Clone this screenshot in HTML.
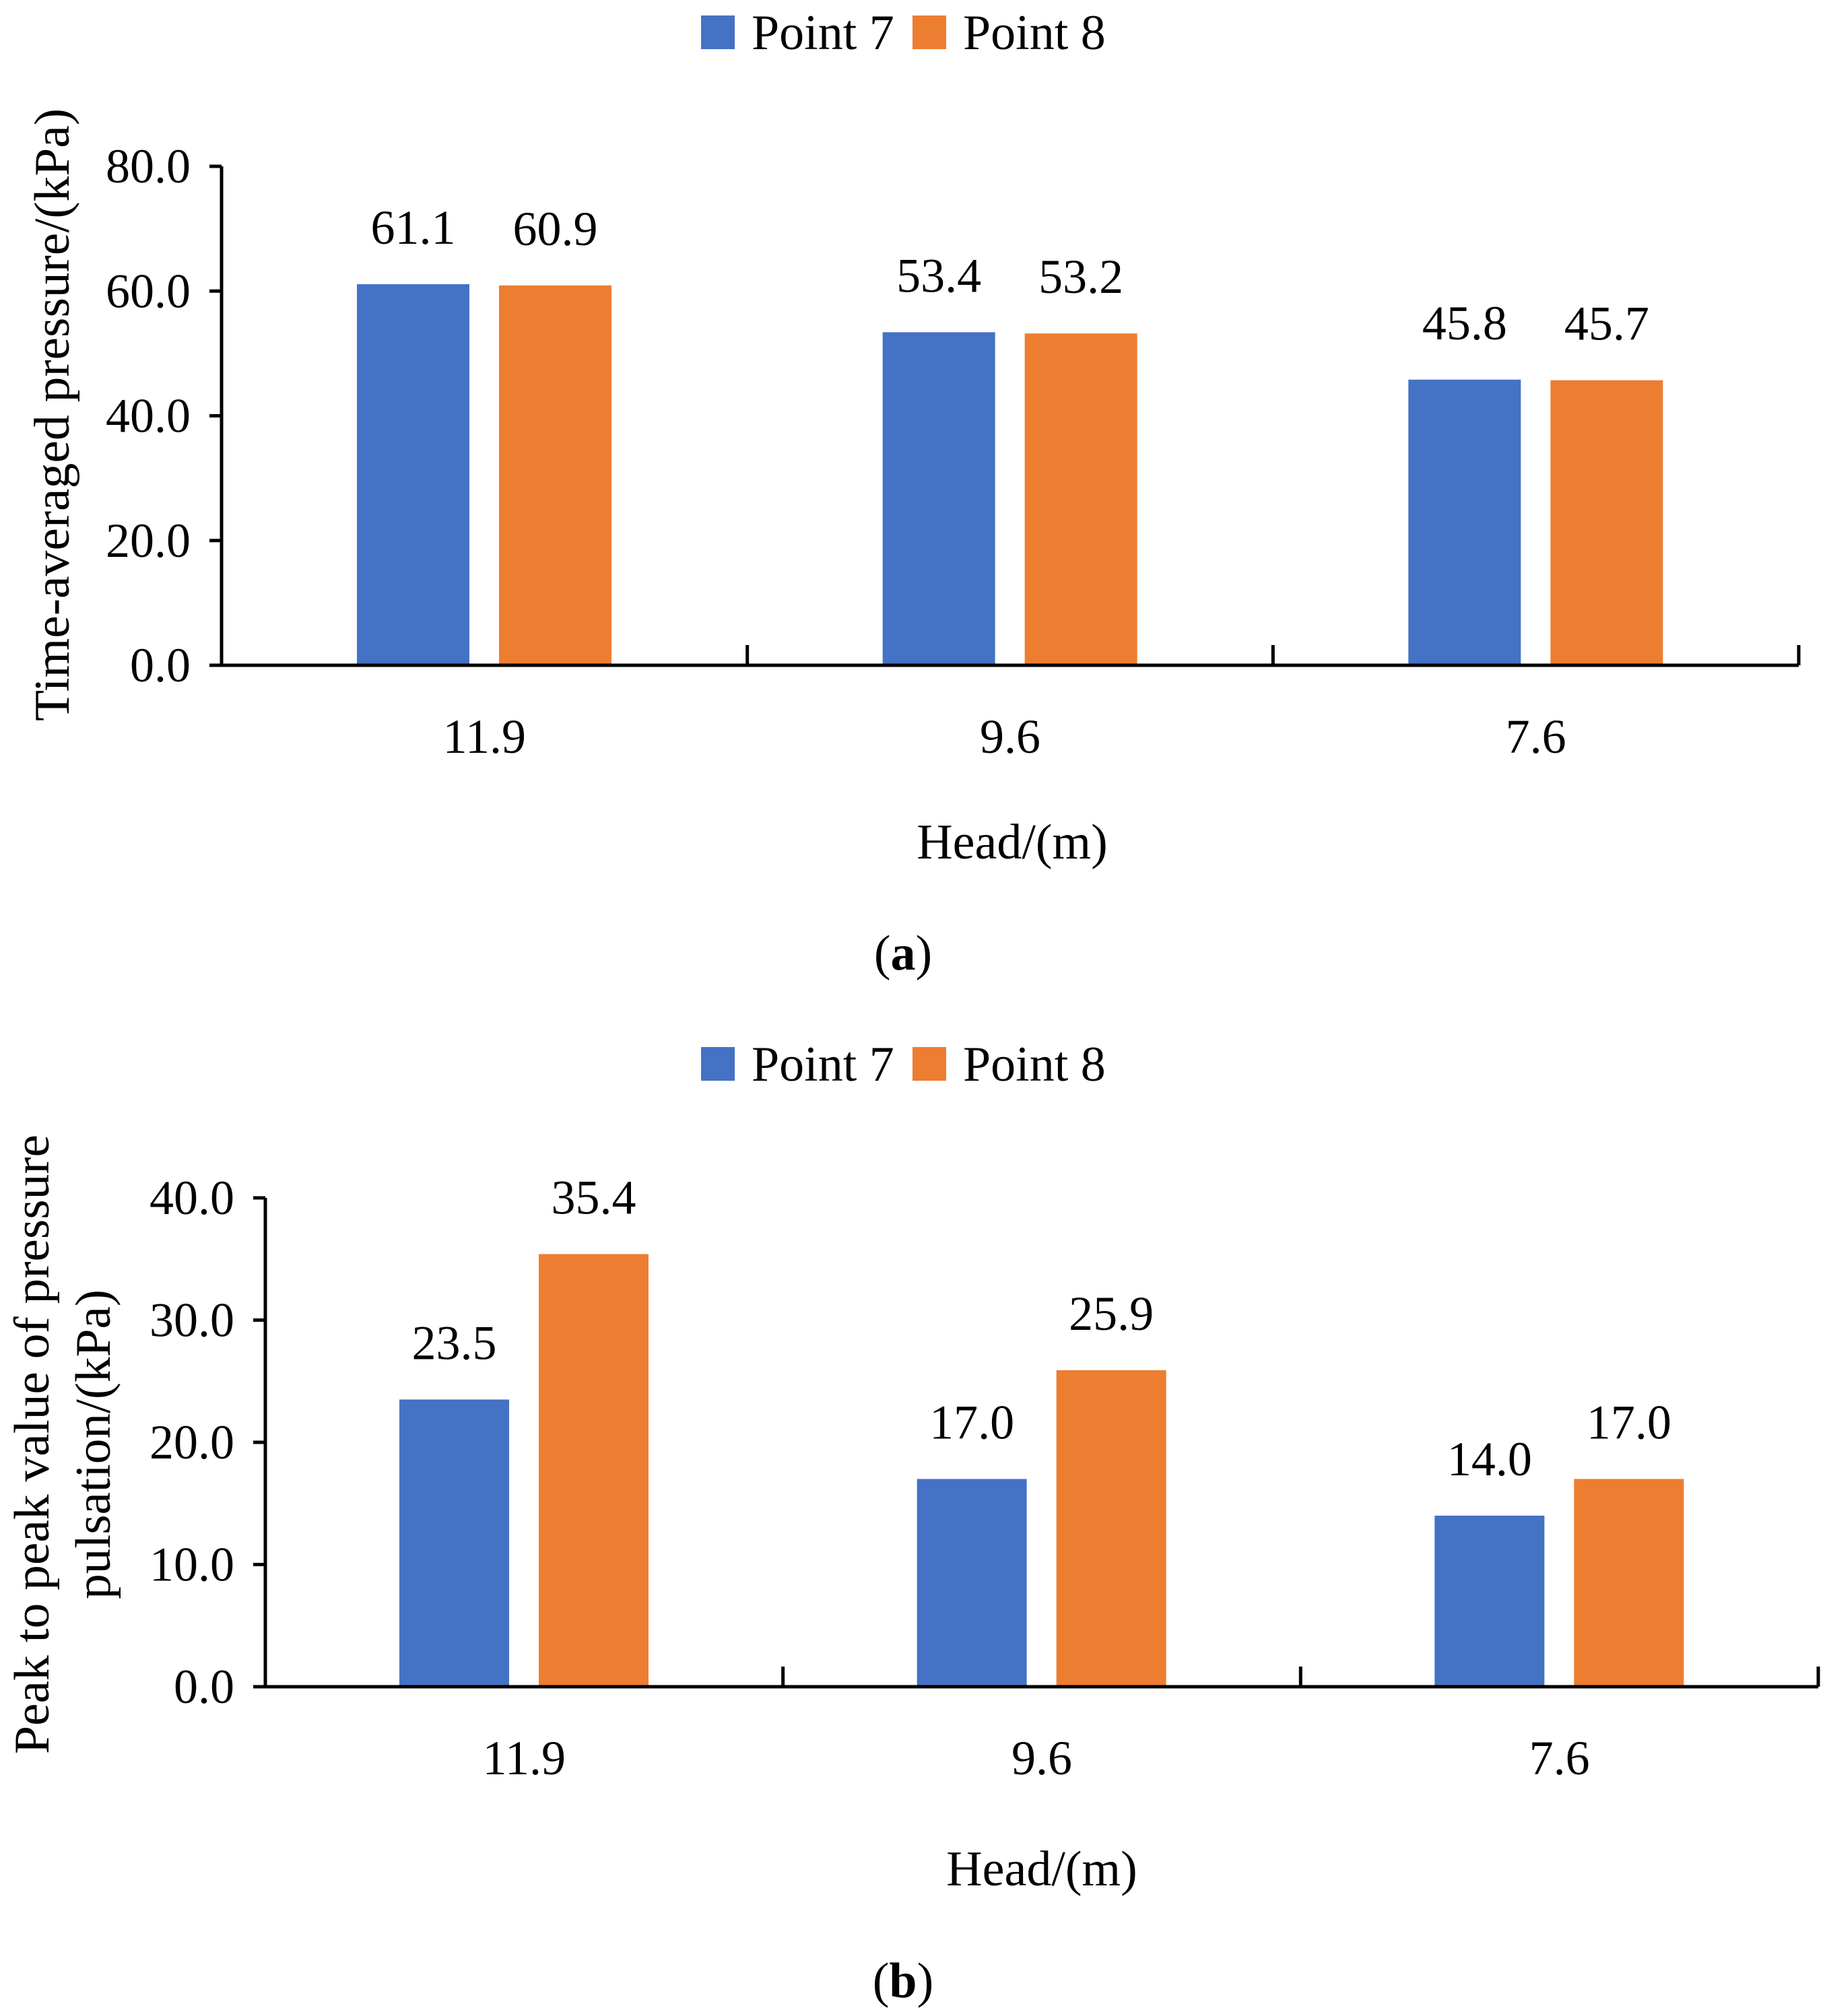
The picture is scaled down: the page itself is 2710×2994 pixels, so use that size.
<!DOCTYPE html>
<html><head><meta charset="utf-8"><style>
html,body{margin:0;padding:0;background:#fff}
svg{display:block}
svg text{font-family:"Liberation Serif","Times New Roman",serif;fill:#000}
</style></head><body>
<svg id="s" width="2710" height="2994" viewBox="0 0 2710 2994"></svg>
<script>
const categories = ["11.9","9.6","7.6"];
const seriesNames = ["Point 7","Point 8"];
const aPoint7 = [61.1,53.4,45.8];
const aPoint8 = [60.9,53.2,45.7];
const bPoint7 = [23.5,17.0,14.0];
const bPoint8 = [35.4,25.9,17.0];
const aTicks = [0,20,40,60,80];
const bTicks = [0,10,20,30,40];
const colors = ["#4472C4","#ED7D31"];
const NS="http://www.w3.org/2000/svg";
const svg=document.getElementById('s');
const FF='"Liberation Serif", serif';
function el(tag,attrs,parent,txt){const e=document.createElementNS(NS,tag);for(const k in attrs)e.setAttribute(k,attrs[k]);if(tag==='text')e.setAttribute('font-family',FF);if(txt!==undefined)e.textContent=txt;(parent||svg).appendChild(e);return e;}
function chart(cfg){
  const g=el('g',{});
  
  
  const yMax=cfg.ticks[cfg.ticks.length-1];
  const y=v=>cfg.y0-(v/yMax)*(cfg.y0-cfg.yTop);
  const cw=(cfg.xR-cfg.x0)/categories.length;
  const lg=el('g',{},g);
  
  
  const lx=[1041,1355];
  seriesNames.forEach((n,i)=>{
    const r=el('rect',{x:lx[i],y:cfg.legY,width:50,height:50,fill:colors[i]},lg);
    
    
    const t=el('text',{x:lx[i]+75,y:cfg.legY+50,'font-size':74},lg,n);
    
    
  });
  cfg.ticks.forEach(v=>{
    el('line',{x1:cfg.x0-18,x2:cfg.x0,y1:y(v),y2:y(v),stroke:'#000','stroke-width':5},g);
    const t=el('text',{x:cfg.x0-46,y:y(v)+24,'font-size':72,'text-anchor':'end'},g,v.toFixed(1));
    
    
  });
  const series=[cfg.s7,cfg.s8];
  categories.forEach((c,ci)=>{
    series.forEach((arr,si)=>{
      const bx=cfg.x0+ci*cw+cfg.off[si];
      const r=el('rect',{x:bx,y:y(arr[ci]),width:cfg.bw,height:cfg.y0-y(arr[ci]),fill:colors[si]},g);
      
      
      const t=el('text',{x:bx+cfg.bw/2,y:y(arr[ci])-60,'font-size':72,'text-anchor':'middle'},g,arr[ci].toFixed(1));
      
      
    });
    const t=el('text',{x:cfg.x0+(ci+0.5)*cw,y:cfg.y0+130,'font-size':72,'text-anchor':'middle'},g,c);
    
    
  });
  for(let i=0;i<=categories.length;i++){
    const x=cfg.x0+i*cw;
    el('line',{x1:x,x2:x,y1:cfg.y0,y2:cfg.y0-(i==0?0:30),stroke:'#000','stroke-width':5},g);
  }
  const ya=el('line',{x1:cfg.x0,x2:cfg.x0,y1:cfg.yTop,y2:cfg.y0+2,stroke:'#000','stroke-width':5},g);
  
  
  const xa=el('line',{x1:cfg.x0-2,x2:cfg.xR,y1:cfg.y0,y2:cfg.y0,stroke:'#000','stroke-width':5},g);
  
  
  const xt=el('text',{x:cfg.xtX,y:cfg.xtY,'font-size':74,'text-anchor':'middle'},g,'Head/(m)');
  
  
  cfg.yTitle.forEach((line,i)=>{
    const t=el('text',{x:0,y:0,'font-size':74,'text-anchor':'middle',textLength:cfg.ytLen[i],lengthAdjust:'spacingAndGlyphs',transform:`translate(${cfg.ytX[i]},${cfg.ytY}) rotate(-90)`},g,line);
    
    
  });
  const cap=el('text',{x:1341,y:cfg.capY,'font-size':74,'text-anchor':'middle'},g);
  
  
  el('tspan',{},cap,'(');
  el('tspan',{'font-weight':'bold'},cap,cfg.cap);
  el('tspan',{},cap,')');
}
chart({name:'chart-a',x0:329,xR:2671,y0:988,yTop:247,ticks:aTicks,s7:aPoint7,s8:aPoint8,off:[201,412],bw:167,legY:23,xtX:1503,xtY:1275,yTitle:['Time-averaged pressure/(kPa)'],ytX:[102],ytLen:[910],ytY:616,capY:1440,cap:'a'});
chart({name:'chart-b',x0:394,xR:2700,y0:2505,yTop:1779,ticks:bTicks,s7:bPoint7,s8:bPoint8,off:[199,406],bw:163,legY:1555,xtX:1547,xtY:2800,yTitle:['Peak to peak value of pressure','pulsation/(kPa)'],ytX:[72,163],ytLen:[920,460],ytY:2145,capY:2966,cap:'b'});
</script>
</body></html>
